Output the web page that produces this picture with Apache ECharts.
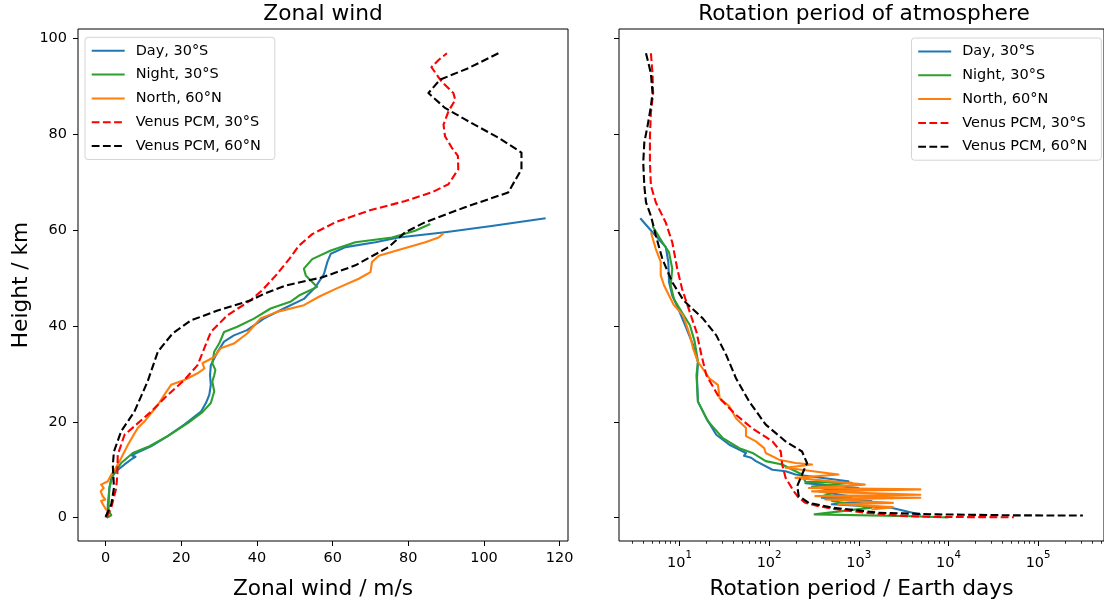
<!DOCTYPE html>
<html>
<head>
<meta charset="utf-8">
<script src="https://cdn.jsdelivr.net/npm/echarts@6/dist/echarts.min.js"></script>
<style>
html,body{margin:0;padding:0;background:#fff;}
#chart{width:1104px;height:605px;}
</style>
</head>
<body>
<div id="chart"></div>
<script>
// ---------- series names ----------
const seriesNames = ['Day, 30°S', 'Night, 30°S', 'North, 60°N', 'Venus PCM, 30°S', 'Venus PCM, 60°N'];

// ---------- left panel: zonal wind (m/s) vs height (km) ----------
const dayWindH = [0, 1, 2.8, 6.2, 8.3, 9.7, 11.1, 12.4, 12.7, 13.0, 14.9, 17, 19.4, 22.1, 23.9, 25.6, 27.7, 29.7, 31.8, 34.6, 36.7, 38, 39.1, 41.5, 43.6, 45.6, 46.5, 48.1, 50.8, 53.3, 55, 56.4, 57.4, 58.4, 59.5, 60.8, 62.4];
const dayWindU = [0, 0.5, 0.6, 1, 1.5, 2.8, 5, 7.2, 7.9, 6.8, 12, 16.4, 20.8, 25.2, 26.5, 27.4, 27.8, 27.6, 27.8, 29.6, 31.3, 33.9, 37.4, 41.8, 47.1, 52.4, 53.5, 55.5, 57.7, 58.6, 59.5, 63.4, 71.3, 77.4, 89.7, 102, 116.3];

const nightWindH = [0, 0.5, 1.5, 2.8, 6.2, 9, 11.4, 13.5, 14.9, 17, 19.7, 22, 23.9, 26.3, 28.4, 29.7, 30.8, 32.2, 34.6, 36.3, 38.7, 39.8, 41.5, 43.6, 45, 46.3, 48.1, 50.5, 51.9, 53.9, 55.7, 57.4, 58.4, 59.8, 61.2];
const nightWindU = [0.3, 1.5, 0.8, 0.8, 1, 1.9, 4.1, 7.2, 11.6, 16.4, 21.7, 25.6, 27.8, 28.7, 28.2, 28.7, 29, 28.2, 28.7, 30, 31.3, 34.8, 39.2, 43.6, 48.8, 51.1, 55.9, 52.9, 52.4, 54.6, 59.5, 66, 75.7, 81.8, 85.8];

const northWindH = [1.5, 2.5, 3.5, 3.8, 4.5, 5.5, 6.2, 6.9, 7.6, 9, 10, 11.8, 13.8, 15.2, 17, 18.7, 20.1, 21.4, 23.5, 25.6, 27.7, 28.7, 30.1, 31.1, 32.2, 33.5, 35.3, 36.3, 38.4, 41.5, 42.9, 44.3, 46.1, 47.7, 49.8, 51.2, 53.3, 54.6, 56, 57.4, 58.4, 59.3];
const northWindU = [0.3, -0.5, -1.2, -0.1, -0.8, -1.3, -0.5, -1.2, 0.6, 1.5, 2.4, 3.7, 5, 5.9, 7.2, 8.5, 10.3, 11.6, 13.8, 15.5, 17.3, 20.8, 24.3, 26.1, 25.6, 28.7, 30.4, 33.9, 37.4, 40.9, 45.3, 52.4, 56.5, 60.8, 66.9, 70, 70.4, 72.2, 78.3, 84.5, 88, 89.3];

const pcm30WindH = [0.1, 2.1, 6.2, 9, 13.1, 17.3, 19.4, 22.1, 24.9, 28.7, 31.8, 38.7, 42.2, 45.3, 47.5, 50.5, 53.9, 56.7, 59.1, 61.6, 64, 66, 67.8, 69.5, 72.6, 75.4, 77.1, 79.5, 81.9, 84.7, 87.1, 88.5, 90.9, 93.9, 95.4, 96.8];
const pcm30WindU = [0.3, 1.5, 2.8, 3.1, 3.2, 5, 8.1, 12, 15.5, 20.8, 24.3, 27.8, 32.2, 38.3, 41.5, 45, 48.5, 51.1, 54.6, 60.8, 69.6, 79.2, 86.2, 90.6, 93.2, 93.1, 91.5, 89.7, 89.3, 90.6, 92.4, 91.9, 88.8, 86.1, 88, 90.2];

const pcm60WindH = [0.2, 2.8, 6.2, 11, 13.8, 18, 22.1, 28.4, 34.6, 38.4, 41.1, 43.2, 45.3, 46.7, 48.4, 50.1, 52.6, 56.4, 59.5, 61.6, 64.7, 67.8, 72.6, 76.1, 79.2, 83, 85.4, 88.5, 91.3, 93.7, 96.8];
const pcm60WindU = [0, 1.5, 2.2, 1.9, 2.2, 4.1, 7.6, 11.1, 13.8, 17.7, 22.5, 29.6, 38.3, 42, 47.6, 57.3, 66, 74.8, 79.2, 84.5, 95, 106.4, 109.9, 109.9, 103.8, 95, 89.7, 85.3, 88.4, 95.9, 103.8];

// ---------- right panel: rotation period (Earth days) vs height (km) ----------
const dayRotH = [62.4, 59.5, 56.4, 53.3, 49.1, 46.3, 43.9, 39.4, 36, 32.5, 29, 24.2, 20.7, 17.3, 15.2, 13.5, 12.9, 12.5, 11.8, 10, 9.7, 9, 7.6, 7.2, 6.2, 5.5, 4.5, 4.15, 3.5, 2.8, 2.1, 0.6];
const dayRotP = [3.66, 5.01, 7.05, 7.52, 7.66, 8.32, 9.55, 12.0, 14.2, 16.1, 15.7, 16.1, 20.0, 25.8, 36.1, 55.3, 52.5, 63.1, 71.3, 109, 153, 197, 766, 254, 989, 356, 766, 388, 1384, 501, 2301, 4943];

const nightRotH = [60.8, 57.4, 55.3, 51.9, 48.4, 45.6, 43.8, 40.1, 36.7, 32.5, 29.7, 24.2, 20.1, 16.6, 14.5, 13.5, 11.8, 11.1, 9, 7.5, 7.3, 6.5, 5.5, 4.5, 4.15, 3.5, 2.1, 0.7, 0.3, 0.05];
const nightRotP = [5.01, 6.46, 7.66, 8.32, 8.0, 8.69, 9.89, 13.1, 14.8, 16.1, 15.5, 16.1, 20.8, 30.5, 46.6, 65.3, 91.8, 140, 233, 254, 832, 301, 593, 388, 832, 501, 1384, 322, 3981, 10000];

const northRotH = [59.5, 56, 53.3, 50.5, 48.4, 46.3, 44.3, 42.2, 38, 35.3, 32.5, 29, 27.7, 24.9, 23.2, 20.7, 18.7, 17, 15.9, 14.5, 13.5, 12.1, 11.4, 11.1, 10.4, 9, 8.3, 6.9, 6.2, 5.9, 5.5, 4.8, 4.5, 4.15, 3.8, 3.1, 2.8, 2.2, 1.7];
const northRotP = [4.81, 5.46, 6.19, 6.19, 6.75, 7.66, 8.69, 11.0, 13.1, 14.2, 16.1, 21.7, 26.9, 28.1, 36.1, 42.9, 55.3, 55.3, 71.3, 88.1, 91.8, 129, 197, 301, 153, 593, 197, 1169, 277, 4864, 301, 4864, 328, 4864, 423, 2404, 593, 2404, 1384];

const pcm30RotH = [96.8, 92.6, 88.5, 84.4, 79.5, 74, 69.2, 65.7, 61.5, 57.4, 51.9, 47.7, 44.3, 38.7, 33.9, 29.7, 24.9, 21.4, 18.6, 15.9, 13.8, 11.1, 8.3, 5.5, 4.15, 3.1, 2.4, 1.7, 1.0, 0.35, 0.15, 0.1];
const pcm30RotP = [4.81, 5.01, 5.09, 4.81, 4.69, 4.69, 4.81, 5.46, 7.05, 8.32, 9.46, 10.7, 12.3, 15.5, 17.6, 20.0, 28.1, 42.9, 65.3, 109, 135, 140, 153, 189, 214, 254, 355, 589, 1259, 3236, 10000, 53700];

const pcm60RotH = [96.8, 92.6, 88.5, 85.7, 81.6, 78.2, 74, 69.2, 65.7, 62.9, 58.8, 53.9, 49.1, 45.3, 41.5, 38, 33.9, 29, 24.2, 19.4, 15.9, 13.8, 11.4, 9, 6.6, 4.5, 3.1, 2.1, 1.4, 1.04, 0.7, 0.5, 0.45];
const pcm60RotP = [4.24, 4.81, 5.01, 4.81, 4.41, 4.06, 3.95, 4.06, 4.24, 4.81, 5.46, 6.46, 8.32, 11.1, 18.3, 25.8, 33.3, 42.9, 60.1, 91.8, 153, 233, 265, 233, 206, 214, 277, 501, 1122, 1641, 7551, 53700, 316000];

// ---------- ticks ----------
const windTicks = [0, 20, 40, 60, 80, 100, 120];
const heightTicks = [0, 20, 40, 60, 80, 100];
const periodTicks = [10, 100, 1000, 10000, 100000];
const periodMinorTicks = [3, 4, 5, 6, 7, 8, 9, 20, 30, 40, 50, 60, 70, 80, 90, 200, 300, 400, 500, 600, 700, 800, 900,
  2000, 3000, 4000, 5000, 6000, 7000, 8000, 9000, 20000, 30000, 40000, 50000, 60000, 70000, 80000, 90000,
  200000, 300000, 400000, 500000];

// ---------- styles ----------
const colors = ['#1f77b4', '#2ca02c', '#ff7f0e', '#ff0000', '#000000'];
const dashed = [false, false, false, true, true];
const FONT = 'DejaVu Sans';
const LW = 2.1;
const BIG = 21.7;
const SMALL = 14.47;

function zip(xs, ys) { const out = []; for (let i = 0; i < xs.length; i++) out.push([xs[i], ys[i]]); return out; }

const windData = [zip(dayWindU, dayWindH), zip(nightWindU, nightWindH), zip(northWindU, northWindH), zip(pcm30WindU, pcm30WindH), zip(pcm60WindU, pcm60WindH)];
const rotData = [zip(dayRotP, dayRotH), zip(nightRotP, nightRotH), zip(northRotP, northRotH), zip(pcm30RotP, pcm30RotH), zip(pcm60RotP, pcm60RotH)];

function mkSeries(name, idx, data, axisIdx) {
  return {
    name: name, type: 'line', data: data,
    xAxisIndex: axisIdx, yAxisIndex: axisIdx,
    symbol: 'none', showSymbol: false, silent: true, animation: false,
    color: colors[idx],
    lineStyle: { color: colors[idx], width: LW, type: dashed[idx] ? [7.8, 3.4] : 'solid', join: 'round', cap: 'butt' },
    emphasis: { disabled: true }
  };
}

const series = [];
seriesNames.forEach((n, i) => series.push(mkSeries(n, i, windData[i], 0)));
seriesNames.forEach((n, i) => series.push(mkSeries(n, i, rotData[i], 1)));

const tickStyle = { show: true, inside: false, length: 5, lineStyle: { color: '#000', width: 1 } };
const labelStyle = { color: '#000', fontFamily: FONT, fontSize: SMALL };
const nameStyle = { color: '#000', fontFamily: FONT, fontSize: BIG };

const legendCommon = {
  orient: 'vertical', selectedMode: false,
  itemWidth: 33, itemHeight: 14, itemGap: 5.8,
  padding: [4.5, 14, 4.5, 5.7],
  backgroundColor: '#fff', borderColor: '#d4d4d4', borderWidth: 1, borderRadius: 3,
  itemStyle: { opacity: 0 },
  textStyle: { color: '#000', fontFamily: FONT, fontSize: SMALL, lineHeight: 18, padding: [0, 0, 0, 6] },
  data: seriesNames
};

const option = {
  animation: false,
  backgroundColor: '#fff',
  textStyle: { fontFamily: FONT },
  title: [
    { text: 'Zonal wind', left: 323, top: 3.5, textAlign: 'center', padding: 0,
      textStyle: { fontFamily: FONT, fontSize: BIG, fontWeight: 'normal', color: '#000' } },
    { text: 'Rotation period of atmosphere', left: 864, top: 3.5, textAlign: 'center', padding: 0,
      textStyle: { fontFamily: FONT, fontSize: BIG, fontWeight: 'normal', color: '#000' } }
  ],
  legend: [
    Object.assign({}, legendCommon, { left: 85, top: 37.3 }),
    Object.assign({}, legendCommon, { left: 911.5, top: 38 })
  ],
  grid: [
    { left: 78, top: 29, width: 490, height: 514, show: true, borderColor: '#000', borderWidth: 1, backgroundColor: 'transparent' },
    { left: 619, top: 29, width: 489, height: 514, show: true, borderColor: '#000', borderWidth: 1, backgroundColor: 'transparent' }
  ],
  xAxis: [
    { type: 'value', gridIndex: 0, position: 'bottom', min: -7.3, max: 122.2,
      name: 'Zonal wind / m/s', nameLocation: 'middle', nameGap: 37, nameTextStyle: nameStyle,
      axisLine: { show: false, onZero: false }, splitLine: { show: false },
      axisTick: Object.assign({}, tickStyle, { customValues: windTicks }),
      axisLabel: Object.assign({}, labelStyle, { margin: 10, customValues: windTicks }) },
    { type: 'log', logBase: 10, gridIndex: 1, position: 'bottom', min: 2.12, max: 543000,
      name: 'Rotation period / Earth days', nameLocation: 'middle', nameGap: 37, nameTextStyle: nameStyle,
      axisLine: { show: false, onZero: false }, splitLine: { show: false }, minorTick: { show: false },
      axisTick: Object.assign({}, tickStyle, { customValues: periodTicks }),
      axisLabel: Object.assign({}, labelStyle, { margin: 9, customValues: periodTicks,
        formatter: function (v) { const e = Math.round(Math.log10(v)); return '{b|10}{e|' + e + '}'; },
        rich: {
          b: { fontFamily: FONT, fontSize: SMALL, color: '#000', lineHeight: 20, verticalAlign: 'bottom' },
          e: { fontFamily: FONT, fontSize: 10.2, color: '#000', lineHeight: 11, verticalAlign: 'top' }
        } }) },
    { type: 'log', logBase: 10, gridIndex: 1, position: 'bottom', min: 2.12, max: 543000,
      axisLine: { show: false, onZero: false }, splitLine: { show: false },
      axisTick: { show: true, inside: false, length: 2.8, lineStyle: { color: '#000', width: 0.8 }, customValues: periodMinorTicks },
      axisLabel: { show: false } }
  ],
  yAxis: [
    { type: 'value', gridIndex: 0, position: 'left', min: -4.85, max: 101.85,
      name: 'Height / km', nameLocation: 'middle', nameGap: 46, nameTextStyle: nameStyle,
      axisLine: { show: false, onZero: false }, splitLine: { show: false },
      axisTick: Object.assign({}, tickStyle, { customValues: heightTicks }),
      axisLabel: Object.assign({}, labelStyle, { margin: 11, customValues: heightTicks }) },
    { type: 'value', gridIndex: 1, position: 'left', min: -4.85, max: 101.85,
      axisLine: { show: false, onZero: false }, splitLine: { show: false },
      axisTick: Object.assign({}, tickStyle, { customValues: heightTicks }),
      axisLabel: { show: false } }
  ],
  series: series
};

const chart = echarts.init(document.getElementById('chart'), null, { renderer: 'canvas' });
chart.setOption(option);
</script>
</body>
</html>
